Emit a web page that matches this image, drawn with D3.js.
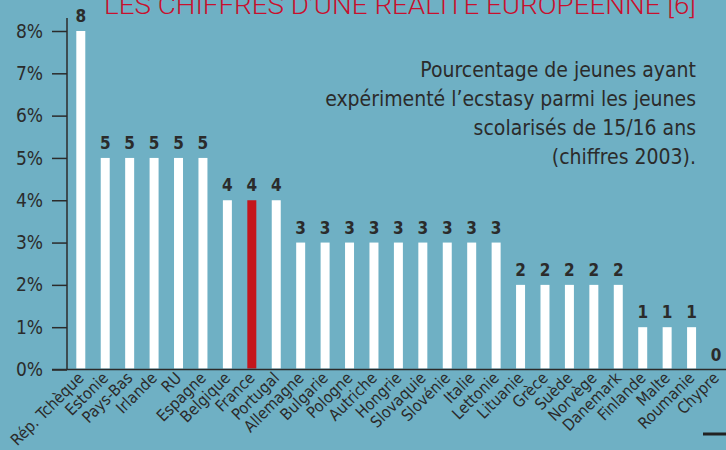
<!DOCTYPE html>
<html>
<head>
<meta charset="utf-8">
<script src="https://cdn.jsdelivr.net/npm/d3@7"></script>
<style>
  body { margin: 0; background: #6fb0c4; }
  svg { display: block; font-family: "DejaVu Sans Condensed", "DejaVu Sans", sans-serif; }
</style>
</head>
<body>
<div id="chart"></div>
<script>
// chart data
const countries = ["Rép. Tchèque", "Estonie", "Pays-Bas", "Irlande", "RU", "Espagne", "Belgique", "France",
  "Portugal", "Allemagne", "Bulgarie", "Pologne", "Autriche", "Hongrie", "Slovaquie", "Slovénie", "Italie",
  "Lettonie", "Lituanie", "Grèce", "Suède", "Norvège", "Danemark", "Finlande", "Malte", "Roumanie", "Chypre"];
const values = [8, 5, 5, 5, 5, 5, 4, 4, 4, 3, 3, 3, 3, 3, 3, 3, 3, 3, 2, 2, 2, 2, 2, 1, 1, 1, 0];
const highlight = ["France"];
const yTicks = [0, 1, 2, 3, 4, 5, 6, 7, 8];
const title = "LES CHIFFRES D\u2019UNE RÉALITÉ EUROPÉENNE [6]";
const subtitle = ["Pourcentage de jeunes ayant", "expérimenté l\u2019ecstasy parmi les jeunes",
  "scolarisés de 15/16 ans", "(chiffres 2003)."];

const width = 726, height = 450;
const data = countries.map((c, i) => ({country: c, value: values[i]}));

let svg = d3.select("#chart").append("svg")
  .attr("width", width)
  .attr("height", height);

svg.append("rect").attr("width", width).attr("height", height).attr("fill", "#6fb0c4");

// scales
const X_SCALE = d3.scaleBand()
  .domain(countries)
  .range([76.3, 720.5])
  .paddingInner(0.632)
  .paddingOuter(0);

const Y_SCALE = d3.scaleLinear()
  .domain([0, 8])
  .range([369.5, 31]);

// title (clipped at the top like the original)
svg.append("text")
  .attr("x", 104)
  .attr("y", 14)
  .attr("textLength", 592)
  .attr("lengthAdjust", "spacingAndGlyphs")
  .style("font-size", "25px")
  .style("font-family", "Roboto, sans-serif")
  .style("font-weight", 300)
  .attr("fill", "#c8102e")
  .text(title);

// subtitle block, right aligned
svg.append("g")
  .selectAll("text")
  .data(subtitle)
  .enter().append("text")
  .attr("x", 696)
  .attr("y", (d, i) => 77 + i * 29)
  .attr("text-anchor", "end")
  .attr("fill", "#2b2b2b")
  .style("font-size", "21px")
  .text(d => d);

// y axis
const yAxis = svg.append("g")
  .attr("transform", "translate(67,0)")
  .call(d3.axisLeft(Y_SCALE).tickValues(yTicks).tickSize(15).tickPadding(9).tickFormat(d => d + "%"));
yAxis.select(".domain").remove();
yAxis.selectAll("line").attr("stroke", "#2b2b2b").attr("stroke-width", 1.5);
yAxis.selectAll("text").attr("fill", "#2b2b2b").style("font-size", "19px")
  .style("font-family", "\"DejaVu Sans Condensed\", sans-serif");

svg.append("line")
  .attr("x1", 67).attr("x2", 67)
  .attr("y1", 18).attr("y2", Y_SCALE(0))
  .attr("stroke", "#2b2b2b").attr("stroke-width", 1.5);

// bars
svg.selectAll(".bar")
  .data(data)
  .enter().append("rect")
  .attr("class", "bar")
  .attr("x", d => X_SCALE(d.country))
  .attr("y", d => Y_SCALE(d.value))
  .attr("width", X_SCALE.bandwidth())
  .attr("height", d => Y_SCALE(0) - 1 - Y_SCALE(d.value))
  .attr("fill", d => highlight.includes(d.country) ? "#c4161c" : "#ffffff");

// x axis line
svg.append("line")
  .attr("x1", 52).attr("x2", width)
  .attr("y1", Y_SCALE(0)).attr("y2", Y_SCALE(0))
  .attr("stroke", "#2b2b2b").attr("stroke-width", 1.5);

// value labels
svg.selectAll(".val")
  .data(data)
  .enter().append("text")
  .attr("class", "val")
  .attr("x", d => X_SCALE(d.country) + X_SCALE.bandwidth() / 2)
  .attr("y", d => Y_SCALE(d.value) - 9)
  .attr("text-anchor", "middle")
  .attr("fill", "#2b2b2b")
  .style("font-size", "17px")
  .style("font-weight", "bold")
  .text(d => d.value);

// country labels, rotated
svg.selectAll(".lbl")
  .data(data)
  .enter().append("text")
  .attr("class", "lbl")
  .attr("transform", d => "translate(" + (X_SCALE(d.country) + X_SCALE.bandwidth() / 2 + 4) + ",379) rotate(-45)")
  .attr("text-anchor", "end")
  .attr("fill", "#2b2b2b")
  .style("font-size", "16px")
  .text(d => d.country);

// small rule bottom right
svg.append("line")
  .attr("x1", 703).attr("x2", width)
  .attr("y1", 434).attr("y2", 434)
  .attr("stroke", "#222").attr("stroke-width", 3);
</script>
</body>
</html>
